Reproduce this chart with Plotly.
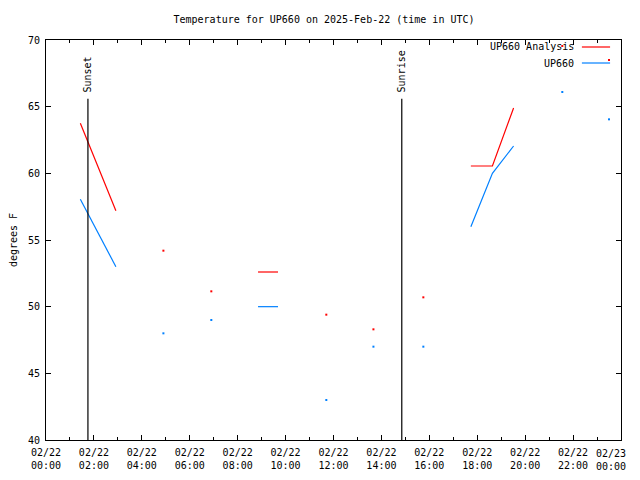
import plotly.graph_objects as go
from collections import Counter

DAY = "2025-02-22"
obs_time = ["01:26", "02:55", "04:54", "06:54", "08:51", "09:41", "11:42",
            "13:40", "15:45", "17:44", "18:38", "19:31", "21:33", "23:30"]
segment = [0, 0, 1, 2, 3, 3, 4, 5, 6, 7, 7, 7, 8, 9]
analysis = [63.75, 57.2, 54.2, 51.15, 52.6, 52.6, 49.4, 48.3, 50.7,
            60.55, 60.55, 64.9, 69.55, 68.5]
up660 = [58.05, 53.0, 48.0, 49.0, 50.0, 50.0, 43.0, 47.0, 47.0,
         56.0, 60.0, 62.05, 66.1, 64.05]

sun_events = ["Sunset", "Sunrise"]
sun_times = ["01:45", "14:51"]
sun_line_top = 65.6

tick_times = ["2025-02-22 %02d:00" % h for h in range(0, 24, 2)] + ["2025-02-23 00:00"]
tick_text = ["02/22<br>%02d:00" % h for h in range(0, 24, 2)] + ["02/23<br>00:00"]

FONT = "DejaVu Sans Mono"
RED = "#ff0000"
BLUE = "#0080ff"

seg_count = Counter(segment)


def build(values):
    xs, ys = [], []
    px, py = [], []
    prev = None
    for t, s, v in zip(obs_time, segment, values):
        if prev is not None and s != prev:
            xs.append(None)
            ys.append(None)
        xs.append(f"{DAY} {t}")
        ys.append(v)
        if seg_count[s] == 1:
            px.append(f"{DAY} {t}")
            py.append(v)
        prev = s
    return xs, ys, px, py


fig = go.Figure()
for name, vals, col in [("UP660 Analysis", analysis, RED), ("UP660", up660, BLUE)]:
    xs, ys, px, py = build(vals)
    fig.add_trace(go.Scatter(
        x=xs, y=ys, name=name, mode="lines",
        line=dict(color=col, width=1.2),
        connectgaps=False, showlegend=False,
    ))
    fig.add_trace(go.Scatter(
        x=px, y=py, name=name, mode="markers",
        marker=dict(color=col, size=2, symbol="square", line=dict(width=0)),
        showlegend=False,
    ))

for ev, t in zip(sun_events, sun_times):
    x = f"{DAY} {t}"
    fig.add_shape(type="line", x0=x, x1=x, y0=40, y1=sun_line_top,
                  xref="x", yref="y", line=dict(color="black", width=1.2))
    fig.add_annotation(x=x, y=sun_line_top, xref="x", yref="y", text=ev,
                       textangle=-90, showarrow=False, yanchor="bottom",
                       xanchor="center", yshift=4,
                       font=dict(family=FONT, size=10, color="black"))

# gnuplot-style legend: text then sample line
legend_items = [("UP660 Analysis", RED, 0.9825), ("UP660", BLUE, 0.9425)]
for name, col, yp in legend_items:
    fig.add_annotation(x=0.922, y=yp, xref="paper", yref="paper", text=name,
                       showarrow=False, xanchor="right", yanchor="middle",
                       font=dict(family=FONT, size=10, color="black"))
    fig.add_shape(type="line", x0=0.932, x1=0.981, y0=yp, y1=yp,
                  xref="paper", yref="paper", line=dict(color=col, width=1.2))

# last tick label shifted inward so it fits (as in the reference)
fig.add_annotation(x=1.012, y=0, xref="paper", yref="paper",
                   text=tick_text[-1], showarrow=False, xanchor="right",
                   yanchor="top", yshift=-6,
                   font=dict(family=FONT, size=10, color="black"))

# the page body adds an 8px offset; figure sized to fit the 640x480 window
fig.update_layout(
    width=632, height=472,
    margin=dict(l=38, r=19, t=32, b=40, autoexpand=False),
    paper_bgcolor="white", plot_bgcolor="white",
    font=dict(family=FONT, size=10, color="black"),
    title=dict(text="Temperature for UP660 on 2025-Feb-22 (time in UTC)",
               x=0.5, xanchor="center", y=1 - 11 / 472, yanchor="middle",
               font=dict(family=FONT, size=10, color="black")),
    showlegend=False,
)
fig.update_xaxes(
    range=["2025-02-22 00:00", "2025-02-23 00:00"],
    tickmode="array", tickvals=tick_times, ticktext=tick_text[:-1] + [""],
    ticks="inside", ticklen=5, tickcolor="black", tickwidth=1,
    minor=dict(ticks="inside", ticklen=3, dtick=3600000, tickcolor="black", showgrid=False),
    showline=True, linecolor="black", linewidth=1, mirror="ticks",
    showgrid=False, zeroline=False, automargin=False, ticklabelstandoff=3,
    tickfont=dict(family=FONT, size=10),
)
fig.update_yaxes(
    range=[40, 70], tickmode="linear", tick0=40, dtick=5,
    ticks="inside", ticklen=5, tickcolor="black", tickwidth=1,
    showline=True, linecolor="black", linewidth=1, mirror="ticks",
    showgrid=False, zeroline=False, automargin=False, ticklabelstandoff=3,
    title=dict(text="degrees F", font=dict(family=FONT, size=10)),
    tickfont=dict(family=FONT, size=10),
)

fig.write_html("out.html")
